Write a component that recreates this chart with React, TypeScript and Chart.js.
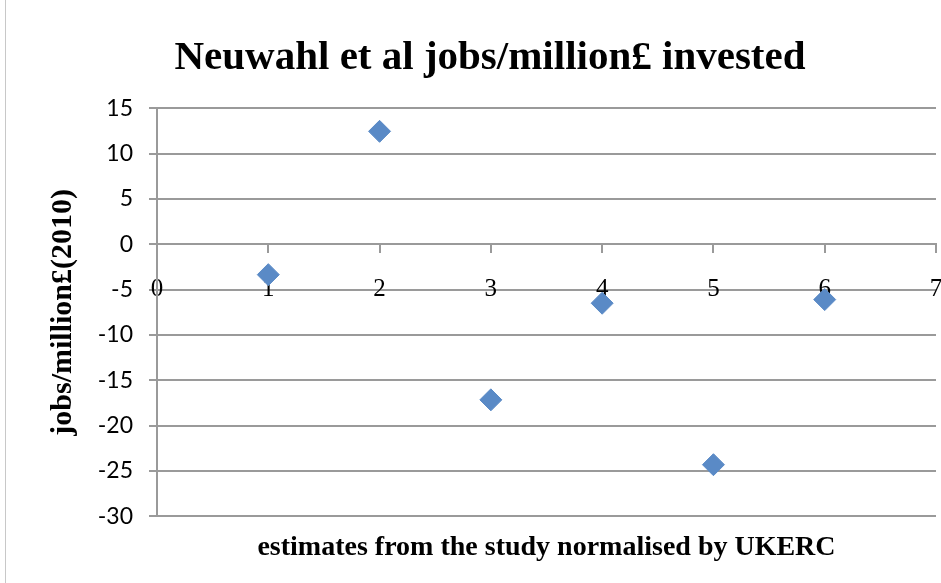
import React, { useEffect, useRef } from 'react';
import { Chart, registerables } from 'chart.js';

Chart.register(...registerables);

const xValues = [1, 2, 3, 4, 5, 6];
const yValues = [-3.35, 12.45, -17.15, -6.5, -24.3, -6.1];
const chartTitle = 'Neuwahl et al jobs/million£ invested';
const xAxisTitle = 'estimates from the study normalised by UKERC';
const yAxisTitle = 'jobs/million£(2010)';
const xRange = [0, 7];
const yRange = [-30, 15];
const xStep = 1;
const yStep = 5;

const GRID = '#9a9a9a';

export default function App() {
  const canvasRef = useRef<HTMLCanvasElement | null>(null);

  useEffect(() => {
    const canvas = canvasRef.current;
    if (!canvas) return;
    const points = xValues.map((x, i) => ({ x, y: yValues[i] }));
    const chart = new Chart(canvas, {
      type: 'scatter',
      data: {
        datasets: [
          {
            data: points,
            pointStyle: 'rectRot',
            pointRadius: 11,
            pointHoverRadius: 11,
            backgroundColor: '#5a8ac6',
            borderColor: '#5a8ac6',
            borderWidth: 1,
          },
        ],
      },
      options: {
        responsive: false,
        animation: false,
        events: [],
        layout: { autoPadding: false, padding: { left: 44, right: 5, top: 0, bottom: 0 } },
        plugins: {
          legend: { display: false },
          tooltip: { enabled: false },
          title: {
            display: true,
            text: chartTitle,
            color: '#000',
            font: { family: 'Liberation Serif', size: 41, weight: 'bold' },
            padding: { top: 34, bottom: 25 },
          },
          subtitle: {
            display: true,
            position: 'bottom',
            fullSize: false,
            text: xAxisTitle,
            color: '#000',
            font: { family: 'Liberation Serif', size: 28, weight: 'bold' },
            padding: { top: 15, bottom: 18 },
          },
        },
        scales: {
          x: {
            type: 'linear',
            min: xRange[0],
            max: xRange[1],
            position: { y: 0 },
            ticks: {
              stepSize: xStep,
              color: '#000',
              font: { family: 'Liberation Serif', size: 25 },
              padding: 22,
              maxRotation: 0,
            },
            grid: {
              drawOnChartArea: false,
              drawTicks: true,
              tickLength: 8,
              color: GRID,
              lineWidth: 2,
            },
            border: { color: GRID, width: 2 },
            afterFit: (scale: any) => {
              scale.paddingLeft = 0;
              scale.paddingRight = 0;
            },
          },
          y: {
            type: 'linear',
            min: yRange[0],
            max: yRange[1],
            ticks: {
              stepSize: yStep,
              color: '#000',
              font: { family: 'Lato', size: 23 },
              padding: 16,
            },
            grid: { color: GRID, lineWidth: 2, tickLength: 8 },
            border: { color: GRID, width: 2 },
            title: {
              display: true,
              text: yAxisTitle,
              color: '#000',
              font: { family: 'Liberation Serif', size: 30, weight: 'bold' },
              padding: { top: 1, bottom: 0 },
            },
            afterFit: (scale: any) => {
              scale.width = 113;
            },
          },
        },
      },
    });
    return () => chart.destroy();
  }, []);

  return (
    <div style={{ position: 'fixed', left: 0, top: 0, width: 941, height: 583, background: '#fff' }}>
      <div style={{ position: 'absolute', left: 5, top: 0, width: 1, height: 583, background: '#c8c8c8' }} />
      <canvas ref={canvasRef} width={941} height={583} style={{ display: 'block' }} />
    </div>
  );
}
